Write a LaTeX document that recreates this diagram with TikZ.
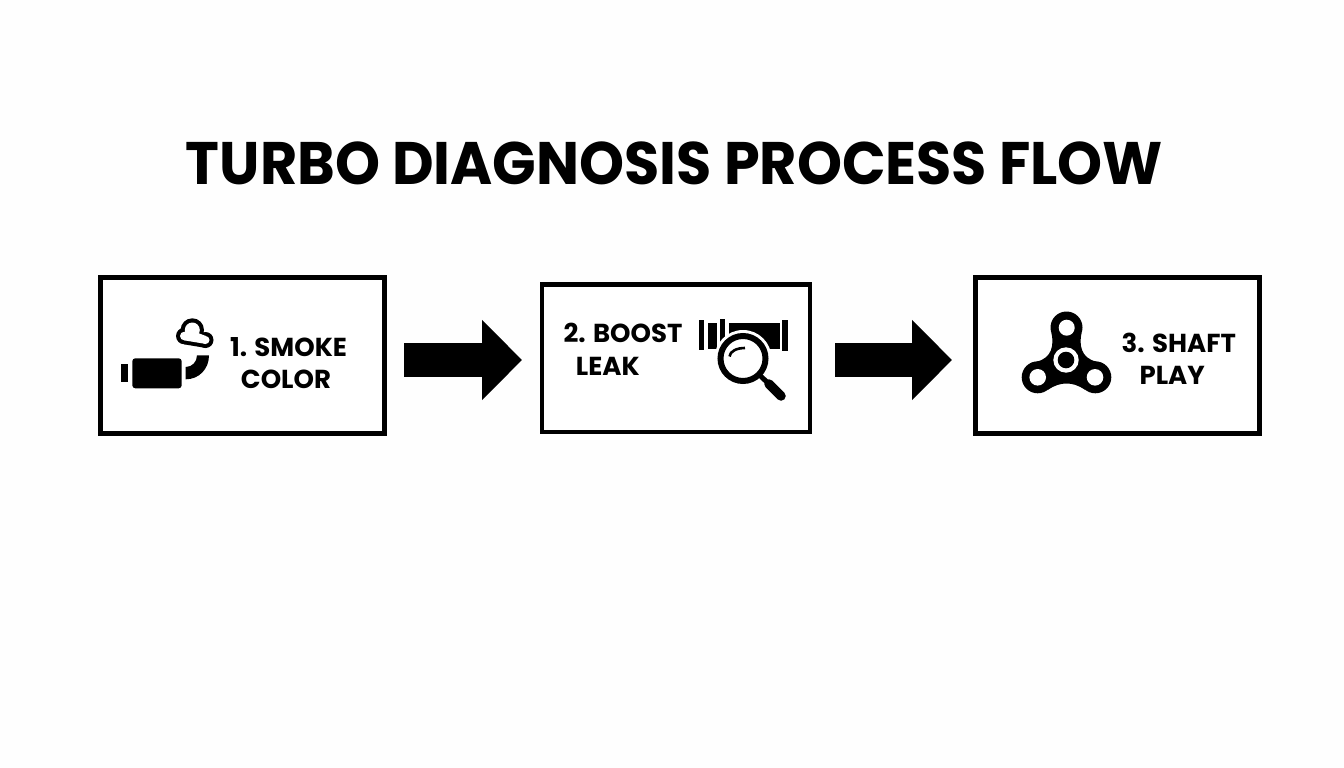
\documentclass[tikz,border=0pt]{standalone}
\usepackage{fontspec}
\setmainfont{Poppins}
\usetikzlibrary{arrows.meta}
\tikzset{
  x=1pt,y=-1pt,
  stepbox/.style={draw=black,line width=4.5pt,fill=white,minimum width=#1,inner sep=0pt,outer sep=2.25pt},
  title/.style={font=\fontsize{60}{60}\selectfont\bfseries,inner sep=0pt,anchor=base},
  lab/.style={font=\fontsize{26}{26}\selectfont\bfseries,inner sep=0pt,anchor=base},
  blockarrow/.style={draw=black,line width=34pt,-{Triangle[length=40pt,width=78pt,fill=black]}},
}
\begin{document}
\begin{tikzpicture}
\useasboundingbox (0,0) rectangle (1344,768);
\fill[white!99.5!black] (0,0) rectangle (1344,768);
\node[title] (t) at (674.5,184) {\scalebox{0.954}[1]{TURBO DIAGNOSIS PROCESS FLOW}};
% boxes
\node[stepbox=284pt,minimum height=156pt] (b1) at (242.5,355.5) {};
\node[stepbox=268pt,minimum height=147.5pt] (b2) at (676,358.25) {};
\node[stepbox=284pt,minimum height=156pt] (b3) at (1117.5,355.5) {};
% arrows
\coordinate (a1s) at (404,360); \coordinate (a1e) at (522,360);
\coordinate (a2s) at (835,360); \coordinate (a2e) at (952,360);
\draw[blockarrow] (a1s) -- (a1e);
\draw[blockarrow] (a2s) -- (a2e);
% labels
\node[lab] (l1a) at (288.5,356.7) {1. SMOKE};
\node[lab] (l1b) at (286,388.3) {COLOR};
\node[lab] (l2a) at (623,342.7) {2. BOOST};
\node[lab] (l2b) at (607.8,375) {LEAK};
\node[lab] (l3a) at (1178.8,352.7) {3. SHAFT};
\node[lab] (l3b) at (1172.2,384.3) {PLAY};
% icon 1: exhaust and smoke
\fill (121.3,363.7) rectangle (128,381.7);
\fill[rounded corners=3pt] (132.3,358.3) rectangle (181.7,388.3);
\fill (185.7,367) .. controls (192,367) and (197,362) .. (197,355.3) -- (209,355.3) .. controls (209,369) and (199,379.3) .. (185.7,379.3) -- cycle;
\fill (192.3,330) circle[radius=11.7] (184.3,336) circle[radius=8.3] (205.5,340) circle[radius=8];
\fill (184,344.3) -- (206,348) -- (206,334) -- (190,330) -- cycle;
\fill[white] (192.3,330) circle[radius=7.5] (184.3,336) circle[radius=4.3] (205.5,340) circle[radius=4];
\fill[white] (184,340.3) -- (206,344) -- (206,336) -- (190,330) -- cycle;
% icon 2: pipe and magnifier
\fill (698.7,320.3) rectangle (704.3,350.3);
\fill (707.7,323) rectangle (717,348.7);
\fill (720.3,319.3) rectangle (725.3,342);
\fill (728.7,323) rectangle (779.7,348.7);
\fill (782,320.3) rectangle (787.7,351);
\fill[white] (743,358.5) circle[radius=28.5];
\draw[line width=6pt,fill=white] (743,358.5) circle[radius=22.5];
\draw[line width=2.6pt] (729.5,356.5) .. controls (730,351) and (737,348) .. (745,348);
\draw[line width=5pt] (760,375.5) -- (769,384);
\draw[line width=9.5pt,line cap=round] (769,384) -- (781,396);
% icon 3: spinner
\fill (1066.5,327.5) circle[radius=16] (1037.7,377.3) circle[radius=16] (1095.3,377.3) circle[radius=16];
\fill (1081.5,333) .. controls (1079,345) and (1081,358) .. (1096,361.5) -- (1085,389.8) .. controls (1078,385) and (1072,383.5) .. (1066.5,383.5) .. controls (1061,383.5) and (1055,385) .. (1048,389.8) -- (1037,361.5) .. controls (1052,358) and (1054,345) .. (1051.5,333) -- cycle;
\fill[white] (1066.7,327.7) circle[radius=8] (1037.7,377.3) circle[radius=8.3] (1095,377.3) circle[radius=8.3] (1066,360) circle[radius=12.7];
\fill (1066,360) circle[radius=8.3];
\end{tikzpicture}
\end{document}
